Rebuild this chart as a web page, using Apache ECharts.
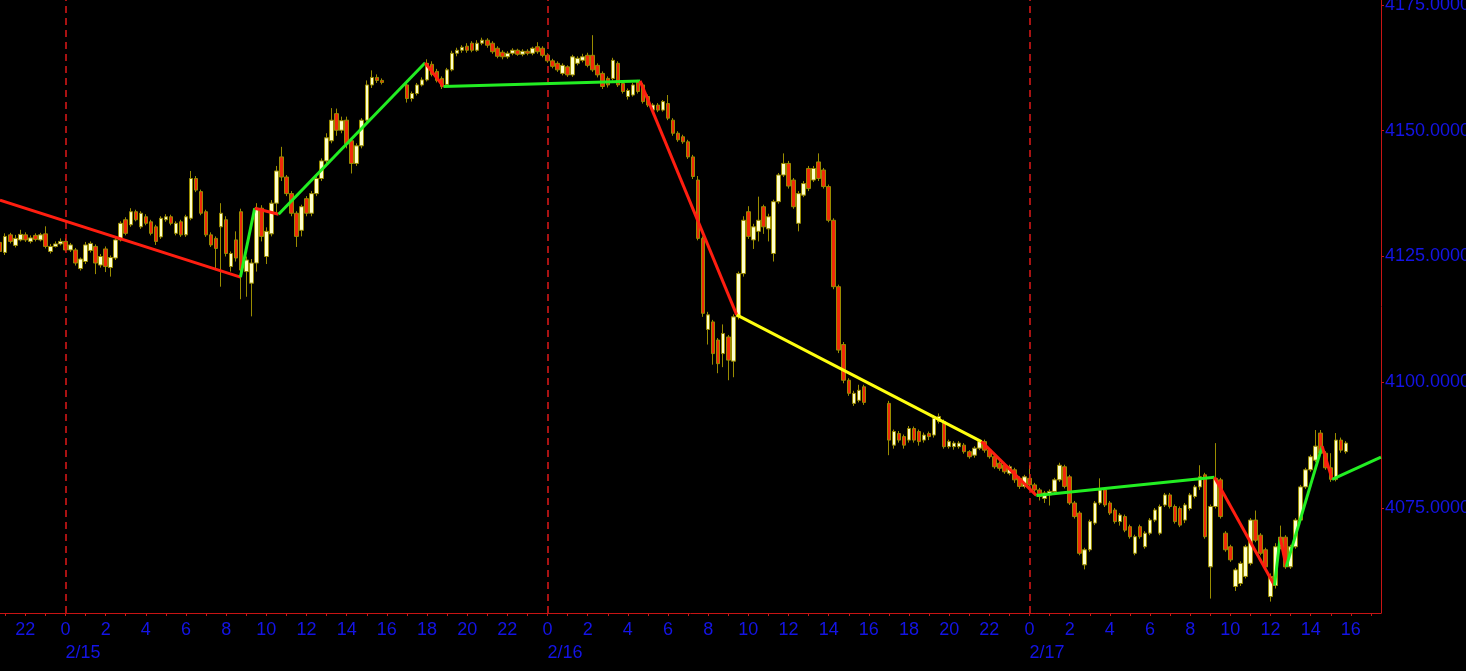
<!DOCTYPE html>
<html><head><meta charset="utf-8">
<script src="https://cdn.jsdelivr.net/npm/echarts@6/dist/echarts.min.js"></script>
<style>html,body{margin:0;padding:0;background:#000;overflow:hidden}#c{width:1466px;height:671px}</style>
</head><body><div id="c"></div>
<script>
// 15-minute candles, [open, close, low, high]; times are hours from 2/15 00:00
const session1Start = -3.25;
const session1 = [
[4127.8,4126.0,4123.7,4128.3],[4125.8,4129.0,4125.3,4129.6],[4129.3,4128.0,4127.6,4129.7],[4127.2,4128.6,4126.8,4129.3],
[4128.3,4129.4,4128.0,4130.3],[4129.3,4128.3,4127.9,4129.8],[4128.0,4128.7,4127.6,4129.2],[4129.2,4128.4,4128.0,4129.6],
[4128.3,4129.3,4128.0,4129.7],[4129.5,4127.0,4126.6,4131.0],[4126.0,4127.0,4125.6,4127.5],[4127.0,4127.5,4126.8,4128.0],
[4127.5,4128.0,4127.2,4128.6],[4128.0,4126.3,4126.0,4128.6],[4126.3,4127.3,4125.9,4127.7],[4126.3,4123.7,4123.2,4126.7],
[4122.6,4124.5,4122.2,4124.8],[4124.0,4127.3,4123.5,4127.9],[4126.2,4127.6,4125.8,4128.0],[4127.0,4123.7,4121.5,4127.4],
[4123.3,4125.0,4122.8,4125.5],[4126.5,4123.0,4121.9,4127.0],[4122.8,4124.8,4121.0,4125.2],[4124.7,4128.3,4124.3,4128.8],
[4128.3,4131.6,4128.0,4132.0],[4132.3,4129.6,4129.2,4132.8],[4131.3,4133.9,4130.9,4134.6],[4133.9,4132.3,4132.0,4134.3],
[4130.9,4133.6,4130.5,4134.0],[4132.9,4131.6,4131.2,4133.4],[4131.9,4129.6,4129.2,4132.3],[4130.9,4128.0,4127.3,4131.3],
[4128.9,4132.6,4128.5,4133.0],[4132.3,4132.9,4131.9,4133.4],[4132.9,4131.6,4131.2,4133.3],[4129.6,4131.6,4129.2,4132.0],
[4131.9,4129.3,4128.9,4132.3],[4129.3,4132.9,4128.9,4133.3],[4132.6,4140.5,4132.2,4142.0],[4140.5,4138.2,4137.8,4141.0],
[4137.9,4133.6,4133.2,4138.3],[4133.9,4129.3,4128.9,4134.3],[4129.3,4127.3,4126.9,4129.8],[4128.6,4126.6,4122.3,4129.0],
[4130.9,4133.6,4119.0,4135.6],[4132.3,4125.6,4125.0,4133.0],[4123.0,4125.6,4122.0,4126.0],[4128.3,4124.7,4124.0,4130.0],
[4133.9,4122.3,4116.5,4134.5],[4122.0,4124.3,4117.0,4125.0],[4119.7,4123.7,4113.1,4124.5],[4123.7,4134.6,4122.0,4135.6],
[4134.6,4129.0,4128.0,4135.2],[4125.0,4130.0,4123.5,4130.8],[4129.5,4135.6,4129.0,4136.2],[4135.6,4142.0,4133.5,4143.0],
[4144.8,4140.8,4140.0,4146.8],[4140.8,4137.5,4137.0,4141.2],[4137.5,4133.6,4133.0,4138.0],[4133.6,4129.0,4126.9,4134.0],
[4130.2,4134.9,4129.0,4135.3],[4136.5,4133.6,4133.0,4137.0],[4133.6,4137.5,4133.0,4138.0],[4137.5,4140.5,4137.0,4141.0],
[4140.5,4144.0,4140.0,4144.5],[4144.0,4148.6,4143.5,4149.5],[4148.0,4152.1,4147.5,4154.5],[4153.4,4150.1,4149.0,4154.4],
[4150.1,4152.0,4149.5,4152.8],[4152.1,4147.4,4146.5,4152.8],[4148.0,4143.5,4141.5,4148.5],[4143.5,4147.0,4143.0,4147.5],
[4147.0,4152.1,4146.5,4152.5],[4152.1,4159.1,4151.5,4160.0],[4159.1,4160.6,4158.5,4162.0],[4160.6,4160.0,4159.5,4161.2],
[4160.0,4159.6,4159.2,4160.4]
];
const session2Start = 17;
const session2 = [
[4159.1,4156.4,4155.6,4159.6],[4156.4,4157.4,4155.8,4157.8],[4157.4,4159.1,4157.0,4159.5],[4159.1,4160.1,4158.8,4160.6],
[4160.1,4163.4,4159.8,4164.2],[4163.2,4161.2,4160.8,4163.8],[4161.8,4160.0,4159.6,4162.3],[4160.4,4158.8,4158.3,4160.8],
[4159.2,4162.1,4158.8,4162.5],[4162.1,4165.4,4161.8,4165.9],[4165.4,4166.0,4164.8,4166.5],[4166.0,4166.6,4165.5,4167.0],
[4166.8,4166.0,4165.5,4167.4],[4167.4,4166.0,4165.6,4167.8],[4166.0,4167.4,4165.7,4168.0],[4167.4,4168.0,4167.0,4168.5],
[4168.0,4167.0,4166.5,4168.4],[4167.4,4165.7,4165.3,4167.8],[4166.4,4164.8,4164.4,4166.8],[4165.6,4164.7,4164.2,4166.0],
[4164.7,4165.4,4164.3,4165.8],[4165.4,4166.0,4165.0,4166.4],[4166.0,4165.2,4164.9,4166.3],[4165.2,4165.8,4164.8,4166.2],
[4165.8,4165.4,4165.0,4166.2],[4165.4,4166.4,4165.0,4166.7],[4166.7,4165.7,4165.3,4167.6],[4166.4,4165.0,4164.6,4166.8],
[4165.0,4163.9,4163.5,4165.4],[4163.9,4162.8,4162.4,4164.3],[4163.4,4162.1,4161.7,4163.8],[4161.4,4163.0,4161.0,4163.4],
[4162.7,4161.1,4160.7,4163.0],[4161.1,4164.7,4160.7,4165.1],[4163.4,4164.4,4163.0,4164.8],[4164.0,4164.7,4163.6,4165.3],
[4165.0,4163.0,4162.6,4165.5],[4165.0,4162.1,4161.7,4169.0],[4163.0,4161.1,4160.6,4163.4],[4161.4,4158.8,4158.3,4161.8],
[4160.4,4159.1,4158.6,4160.8],[4160.4,4164.0,4160.0,4164.5],[4163.4,4159.1,4158.7,4163.8],[4159.4,4157.8,4157.4,4159.8],
[4156.8,4158.0,4156.2,4158.4],[4157.1,4159.1,4156.8,4159.5],[4159.7,4157.8,4157.4,4160.1],[4159.1,4155.8,4155.4,4159.5],
[4156.8,4155.1,4154.7,4157.2],[4154.1,4155.1,4153.7,4155.5],[4155.1,4154.1,4153.7,4155.5],[4154.1,4155.8,4153.8,4156.1],
[4155.4,4152.5,4152.1,4157.1],[4152.1,4149.5,4149.0,4152.5],[4149.5,4148.2,4147.8,4149.9],[4148.8,4147.8,4147.4,4149.2],
[4147.8,4144.8,4144.4,4148.2],[4144.8,4140.9,4140.4,4145.2],[4140.2,4128.6,4128.2,4141.0],[4128.6,4113.7,4113.0,4129.0],
[4110.5,4113.4,4107.5,4114.0],[4112.0,4105.7,4103.5,4112.4],[4108.4,4103.7,4101.8,4108.8],[4105.7,4109.7,4103.0,4111.5],
[4109.0,4104.4,4100.4,4109.4],[4104.2,4113.0,4101.0,4113.5],[4113.0,4121.6,4112.5,4122.0],[4121.6,4132.2,4121.0,4133.0],
[4133.9,4129.0,4128.5,4135.0],[4128.3,4130.9,4126.5,4131.5],[4130.0,4132.2,4128.0,4136.9],[4134.9,4130.9,4129.5,4135.3],
[4130.5,4132.9,4128.0,4133.5],[4125.6,4135.9,4124.0,4136.3],[4135.9,4141.2,4135.5,4141.6],[4141.2,4143.5,4140.8,4145.5],
[4143.5,4139.0,4138.5,4144.0],[4140.2,4134.9,4134.5,4140.6],[4131.6,4137.5,4130.0,4138.0],[4137.2,4139.5,4136.8,4140.0],
[4142.5,4138.5,4138.0,4143.0],[4140.2,4142.5,4139.8,4143.0],[4143.8,4140.5,4140.0,4145.5],[4142.2,4138.9,4138.5,4142.6],
[4138.9,4132.2,4131.8,4139.3],[4132.2,4119.0,4118.5,4132.6],[4119.0,4106.4,4105.8,4119.4],[4107.5,4100.4,4099.8,4108.0],
[4100.4,4097.8,4097.3,4100.8],[4095.8,4097.8,4095.3,4098.3],[4096.4,4098.4,4096.0,4099.5],[4099.1,4096.0,4095.5,4099.5]
];
const session3Start = 41;
const session3 = [
[4095.8,4088.5,4085.5,4096.3],[4087.5,4090.2,4086.8,4090.6],[4089.8,4088.5,4088.0,4090.3],[4089.2,4087.5,4086.8,4089.6],
[4088.5,4090.8,4088.0,4091.3],[4090.8,4088.5,4088.0,4091.2],[4090.2,4088.2,4087.4,4090.6],[4088.5,4089.5,4088.0,4090.0],
[4089.8,4089.2,4088.5,4090.2],[4089.5,4092.8,4089.0,4093.5],[4092.2,4093.2,4091.8,4093.8],[4092.2,4087.2,4086.8,4092.6],
[4087.2,4088.2,4086.8,4088.6],[4087.2,4087.9,4086.6,4088.3],[4087.2,4087.9,4086.8,4088.3],[4087.5,4086.2,4085.8,4087.9],
[4086.2,4085.2,4084.8,4086.5],[4085.5,4086.9,4085.0,4087.3],[4086.9,4088.2,4086.5,4088.6],[4088.2,4086.5,4086.0,4088.6],
[4086.5,4085.2,4084.8,4086.9],[4085.2,4083.2,4082.8,4085.6],[4083.9,4082.9,4082.4,4084.3],[4083.5,4082.2,4081.8,4083.9],
[4081.9,4083.2,4081.5,4083.6],[4082.6,4080.6,4080.0,4083.0],[4080.9,4079.3,4078.8,4081.3],[4079.3,4081.2,4078.9,4081.6],
[4080.9,4079.6,4079.2,4083.5],[4079.6,4078.6,4078.2,4080.0],[4078.6,4077.3,4076.5,4079.0],[4076.9,4078.0,4076.0,4078.4],
[4077.6,4078.3,4075.5,4078.7],[4078.3,4080.6,4078.0,4081.0],[4080.6,4083.5,4080.2,4084.0],[4083.2,4079.3,4078.9,4083.6],
[4081.2,4076.0,4075.6,4081.6],[4076.0,4073.3,4072.9,4076.4],[4074.0,4066.0,4065.6,4074.4],[4063.7,4066.7,4062.8,4067.1],
[4066.7,4072.3,4066.3,4072.7],[4072.0,4076.0,4071.6,4076.4],[4076.0,4078.6,4075.6,4080.9],[4078.6,4075.6,4075.2,4079.0],
[4076.0,4074.0,4073.6,4076.4],[4074.6,4072.3,4071.9,4075.0],[4072.3,4073.6,4071.5,4074.0],[4073.3,4070.6,4070.2,4073.7],
[4071.3,4069.3,4068.9,4071.7],[4066.0,4069.3,4065.6,4069.7],[4071.3,4069.3,4068.9,4071.7],[4067.3,4070.0,4066.9,4070.4],
[4070.0,4072.6,4069.6,4073.0],[4072.6,4074.6,4072.2,4075.0],[4070.0,4075.3,4069.6,4075.7],[4075.6,4077.6,4075.2,4078.0],
[4077.6,4075.3,4074.9,4078.0],[4075.3,4072.3,4071.9,4075.7],[4074.9,4071.6,4071.2,4075.3],[4072.6,4075.6,4072.0,4076.0],
[4074.9,4077.6,4074.5,4078.0],[4077.3,4079.2,4076.9,4079.6],[4079.2,4081.2,4078.6,4083.5],[4081.6,4069.3,4068.9,4082.0],
[4063.3,4075.3,4057.0,4075.7],[4075.3,4080.9,4074.9,4087.9],[4080.6,4073.3,4072.9,4081.0],[4070.0,4066.7,4066.3,4070.4],
[4067.3,4064.7,4064.3,4067.7],[4059.4,4062.7,4058.5,4063.1],[4060.0,4064.0,4059.5,4064.4],[4061.4,4067.3,4061.0,4067.7],
[4064.0,4072.6,4063.6,4073.0],[4072.6,4068.6,4068.2,4074.5],[4069.6,4066.0,4065.6,4070.0],[4066.7,4063.3,4062.9,4067.1],
[4057.4,4061.4,4056.4,4062.0],[4059.6,4067.3,4059.0,4068.0],[4067.3,4069.2,4066.8,4071.5],[4069.2,4063.3,4062.9,4069.6],
[4063.3,4067.3,4062.9,4067.7],[4067.3,4072.6,4066.9,4073.0],[4072.6,4079.2,4072.2,4079.6],[4079.2,4082.6,4078.8,4083.0],
[4082.6,4085.2,4082.2,4085.6],[4084.5,4087.3,4084.1,4090.5],[4089.9,4085.9,4085.5,4090.5],[4085.9,4083.0,4082.6,4086.3],
[4083.0,4080.7,4080.2,4085.9],[4080.7,4088.5,4080.3,4089.9],[4088.5,4086.5,4086.0,4089.0],[4086.2,4087.9,4085.8,4088.3]
];
// zigzag trend line vertices
const zigzagHours  = [-3.262, 8.71, 9.42, 10.61, 17.91, 18.82, 28.61, 33.42, 45.61, 48.34, 57.21, 60.20, 60.48, 60.78, 62.57, 63.07, 65.50];
const zigzagPrices = [4136.2, 4120.9, 4134.6, 4133.4, 4163.5, 4158.8, 4159.9, 4113.4, 4088.2, 4077.5, 4081.1, 4059.6, 4069.2, 4063.3, 4087.3, 4080.7, 4085.1];
const zigzagColors = ['red','green','red','green','red','green','red','yellow','red','green','red','green','red','green','red','green'];
// axes
const hourLabelValues = [-2,0,2,4,6,8,10,12,14,16,18,20,22,24,26,28,30,32,34,36,38,40,42,44,46,48,50,52,54,56,58,60,62,64];
const hourTickValues = [-3,-2,-1,0,1,2,3,4,5,6,7,8,9,10,11,12,13,14,15,16,17,18,19,20,21,22,23,24,25,26,27,28,29,30,31,32,33,34,35,36,37,38,39,40,41,42,43,44,45,46,47,48,49,50,51,52,53,54,55,56,57,58,59,60,61,62,63,64,65];
const dayHours = [0, 24, 48];
const dayLabels = ['2/15', '2/16', '2/17'];
const priceTicks = [4075, 4100, 4125, 4150, 4175];

const lineColorMap = {red:'#ff1e10', green:'#22ee22', yellow:'#ffff10'};
const AXIS_RED = '#c81414';
const LABEL_BLUE = '#1414e6';
const X_MIN = -3.2614, X_MAX = 65.502;

function build(start, arr) { return arr.map((d, i) => [start + i * 0.25, d[0], d[1], d[2], d[3]]); }
const candles = build(session1Start, session1).concat(build(session2Start, session2), build(session3Start, session3));

const zigzagSeries = [];
for (let i = 0; i < zigzagHours.length - 1; i++) {
  zigzagSeries.push({
    type: 'line', xAxisIndex: 0, yAxisIndex: 0, silent: true, z: 5,
    symbol: 'none', animation: false,
    data: [[zigzagHours[i], zigzagPrices[i]], [zigzagHours[i + 1], zigzagPrices[i + 1]]],
    lineStyle: { color: lineColorMap[zigzagColors[i]], width: 3 }
  });
}

const chart = echarts.init(document.getElementById('c'), null, { renderer: 'canvas' });
chart.setOption({
  backgroundColor: '#000000',
  animation: false,
  textStyle: { fontFamily: 'Liberation Sans' },
  grid: { left: 0, top: 0, width: 1381, height: 613, containLabel: false, outerBoundsMode: 'none' },
  xAxis: [{
    type: 'value', min: X_MIN, max: X_MAX, position: 'bottom',
    axisLine: { show: true, onZero: false, lineStyle: { color: AXIS_RED, width: 1 } },
    axisTick: { show: true, customValues: hourTickValues, length: 3, lineStyle: { color: AXIS_RED } },
    axisLabel: { show: true, customValues: hourLabelValues, color: LABEL_BLUE, fontSize: 18, fontFamily: 'Liberation Sans', margin: 8,
      formatter: v => String(((Math.round(v) % 24) + 24) % 24) },
    splitLine: { show: false }
  }, {
    type: 'value', min: X_MIN, max: X_MAX, position: 'bottom',
    axisLine: { show: false }, axisTick: { show: false }, splitLine: { show: false },
    axisLabel: { show: true, customValues: dayHours, color: LABEL_BLUE, fontSize: 18, fontFamily: 'Liberation Sans', margin: 31, align: 'left',
      formatter: v => dayLabels[dayHours.indexOf(Math.round(v))] || '' }
  }],
  yAxis: [{
    type: 'value', min: 4054.13, max: 4175.99, position: 'right', scale: true,
    axisLine: { show: true, onZero: false, lineStyle: { color: AXIS_RED, width: 1 } },
    axisTick: { show: true, customValues: priceTicks, length: 3, lineStyle: { color: AXIS_RED } },
    axisLabel: { show: true, customValues: priceTicks, color: LABEL_BLUE, fontSize: 18, fontFamily: 'Liberation Sans', margin: 4,
      formatter: v => Number(v).toFixed(4) },
    splitLine: { show: false }
  }],
  series: [{
    type: 'candlestick', xAxisIndex: 0, yAxisIndex: 0,
    data: candles, encode: { x: 0, y: [1, 2, 3, 4] },
    barWidth: 4,
    itemStyle: { color: '#ffffcc', color0: '#f02a0a', borderColor: '#9a8c00', borderColor0: '#9a8c00', borderWidth: 1 },
    markLine: {
      silent: true, symbol: ['none', 'none'], animation: false,
      label: { show: false },
      emphasis: { disabled: true },
      lineStyle: { color: '#e01818', type: [7, 5], width: 1.5, opacity: 1 },
      data: dayHours.map(h => ({ xAxis: h }))
    }
  }].concat(zigzagSeries)
});
</script>
</body></html>
